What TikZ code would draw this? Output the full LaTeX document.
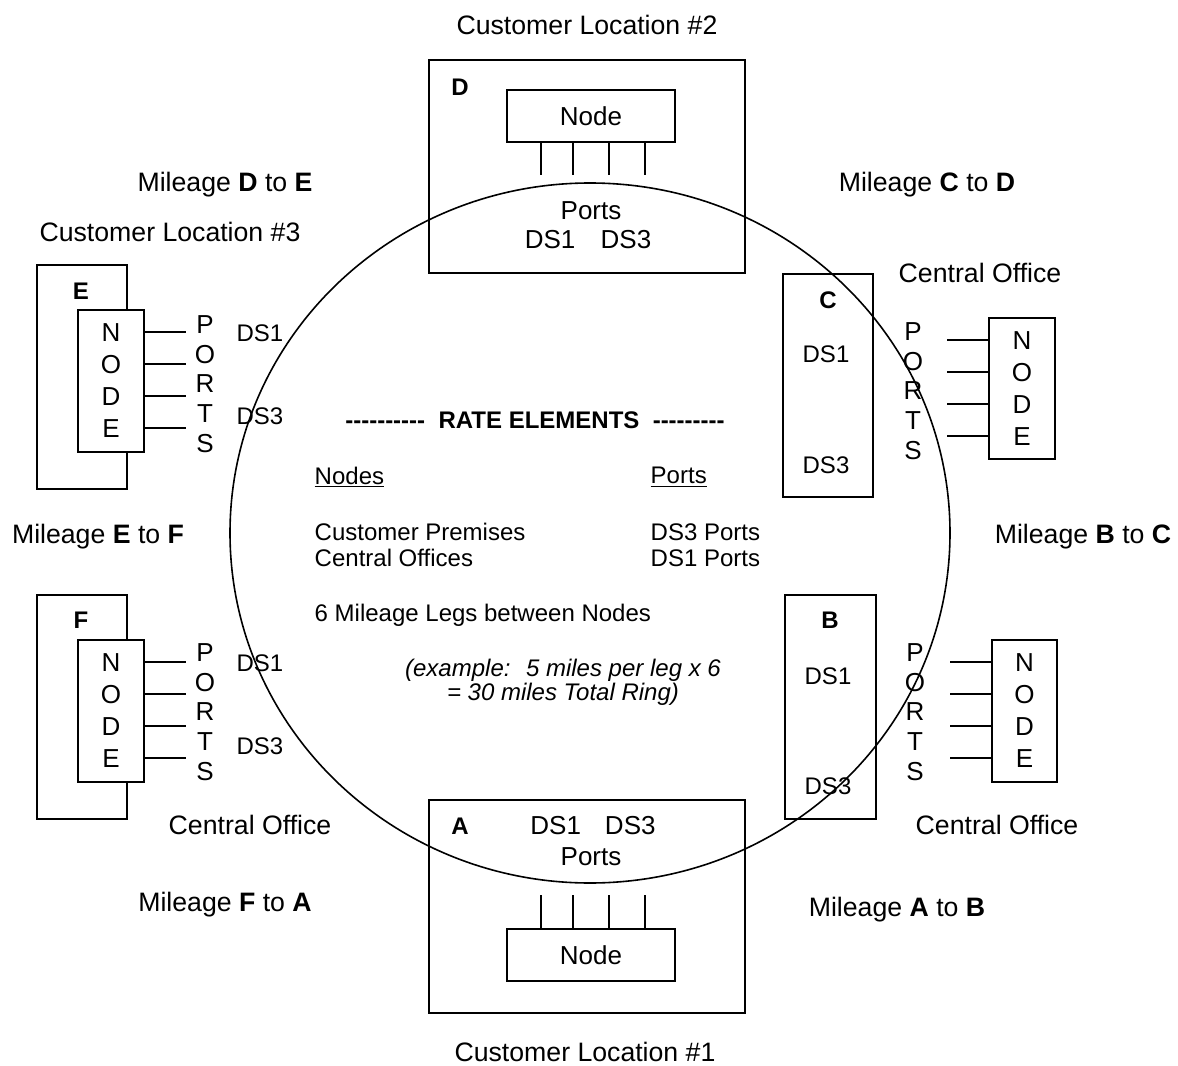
\documentclass[tikz,border=0pt]{standalone}
\usepackage{fontspec}
\setmainfont{Liberation Sans}
\usetikzlibrary{shapes.geometric}

\tikzset{every picture/.style={line width=1.1pt}}
\tikzset{
  sitebox/.style={draw, inner sep=0pt},
  nodebox/.style={draw, fill=white, inner sep=0pt, align=center, font=\fontsize{19.5}{24}\selectfont},
  outlbl/.style={inner sep=0.75pt, font=\fontsize{20}{24}\selectfont},
  inlbl/.style={inner sep=0.75pt, font=\fontsize{18}{21}\selectfont},
  sitelbl/.style={inner sep=0.75pt, font=\fontsize{18}{21}\selectfont\bfseries},
  portcol/.style={inner sep=0.75pt, align=center, font=\fontsize{19.5}{22.3}\selectfont},
}

\begin{document}
\begin{tikzpicture}[x=0.75pt,y=0.75pt,yscale=-1,xscale=1]
\useasboundingbox (0,0) rectangle (1178,1066);

%Shape: Rectangle (sites)
\node [sitebox, minimum width=237pt, minimum height=159.75pt] (siteD) at (587,166.5) {};
\node [sitebox, minimum width=237pt, minimum height=159.75pt] (siteA) at (587,906.5) {};
\node [sitebox, minimum width=67.5pt, minimum height=168pt] (siteE) at (82,377) {};
\node [sitebox, minimum width=67.5pt, minimum height=168pt] (siteF) at (82,707) {};
\node [sitebox, minimum width=67.5pt, minimum height=167.25pt] (siteC) at (828,385.5) {};
\node [sitebox, minimum width=68.25pt, minimum height=168pt] (siteB) at (830.5,707) {};

%Shape: Rectangle (node boxes)
\node [nodebox, minimum width=126pt, minimum height=39pt] (ndD) at (591,116) {Node};
\node [nodebox, minimum width=126pt, minimum height=39pt] (ndA) at (591,955) {Node};
\node [nodebox, minimum width=49.5pt, minimum height=106.5pt] (ndE) at (111,381) {N\\O\\D\\E};
\node [nodebox, minimum width=49.5pt, minimum height=106.5pt] (ndF) at (111,711) {N\\O\\D\\E};
\node [nodebox, minimum width=49.5pt, minimum height=105.75pt] (ndC) at (1022,388.5) {N\\O\\D\\E};
\node [nodebox, minimum width=48.75pt, minimum height=106.5pt] (ndB) at (1024.5,711) {N\\O\\D\\E};

%Straight Lines (ports)
\foreach \px in {541,573,609,645} {
  \draw (ndD.south -| \px,0) -- ++(0,32);
  \draw (ndA.north -| \px,0) -- ++(0,-33);
}
\foreach \py in {332,364,396,428} {
  \draw (ndE.east |- 0,\py) -- ++(41,0);
  \draw (ndC.west |- 0,\py+8) -- ++(-41,0);
}
\foreach \py in {662,694,726,758} {
  \draw (ndF.east |- 0,\py) -- ++(41,0);
  \draw (ndB.west |- 0,\py) -- ++(-41,0);
}

% Text Node
\node [outlbl] (loc2) at (587,25) {Customer Location \#2};
\node [outlbl] (loc3) at (170,232) {Customer Location \#3};
\node [outlbl] (loc1) at (585,1052) {Customer Location \#1};
\node [outlbl] (coC) at (980,273) {Central Office};
\node [outlbl] (coF) at (250,825) {Central Office};
\node [outlbl] (coB) at (997,825) {Central Office};
% Text Node
\node [outlbl] (milDE) at (225,185) {Mileage \textbf{D} to \textbf{E}};
\node [outlbl] (milCD) at (927,185) {Mileage \textbf{C} to \textbf{D}};
\node [outlbl] (milEF) at (98,537) {Mileage \textbf{E} to \textbf{F}};
\node [outlbl] (milBC) at (1083,537) {Mileage \textbf{B} to \textbf{C}};
\node [outlbl] (milFA) at (225,905) {Mileage \textbf{F} to \textbf{A}};
\node [outlbl] (milAB) at (897,910) {Mileage \textbf{A} to \textbf{B}};

% Text Node (site letters)
\node [sitelbl] (lblD) at (460,87) {D};
\node [sitelbl] (lblA) at (460,826) {A};
\node [sitelbl] (lblE) at (81,291) {E};
\node [sitelbl] (lblF) at (81,620) {F};
\node [sitelbl] (lblC) at (828,300) {C};
\node [sitelbl] (lblB) at (830,620) {B};

% Text Node (ports)
\node [nodebox, draw=none, fill=none] (portsD) at (591,211) {Ports};
\node [nodebox, draw=none, fill=none] (dsD) at (588,240) {DS1\hspace{19pt}DS3};
\node [nodebox, draw=none, fill=none] (dsA) at (593,826) {DS1\hspace{18pt}DS3};
\node [nodebox, draw=none, fill=none] (portsA) at (591,857) {Ports};
\node [portcol] (portsE) at (205,384) {P\\O\\R\\T\\S};
\node [portcol] (portsF) at (205,712) {P\\O\\R\\T\\S};
\node [portcol] (portsC) at (913,391) {P\\O\\R\\T\\S};
\node [portcol] (portsB) at (915,712) {P\\O\\R\\T\\S};
\node [inlbl] (ds1E) at (260,333) {DS1};
\node [inlbl] (ds3E) at (260,416) {DS3};
\node [inlbl] (ds1F) at (260,663) {DS1};
\node [inlbl] (ds3F) at (260,746) {DS3};
\node [inlbl] (ds1C) at (826,354) {DS1};
\node [inlbl] (ds3C) at (826,465) {DS3};
\node [inlbl] (ds1B) at (828,676) {DS1};
\node [inlbl] (ds3B) at (828,786) {DS3};

% Text Node (rate elements)
\node [inlbl, font=\fontsize{18}{21}\selectfont\bfseries] (rate) at (535,420) {-{}-{}-{}-{}-{}-{}-{}-{}-{}-~ RATE ELEMENTS ~-{}-{}-{}-{}-{}-{}-{}-{}-};
\node [inlbl, anchor=west] (hdNodes) at (313,477) {\underline{Nodes}};
\node [inlbl, anchor=west] (hdPorts) at (649,477) {\underline{Ports}};
\node [inlbl, anchor=west] (cp) at (313,532) {Customer Premises};
\node [inlbl, anchor=west] (cos) at (313,558) {Central Offices};
\node [inlbl, anchor=west] (ds3p) at (649,532) {DS3 Ports};
\node [inlbl, anchor=west] (ds1p) at (649,558) {DS1 Ports};
\node [inlbl, anchor=west] (legs) at (313,615) {6 Mileage Legs between Nodes};
\node [inlbl, font=\fontsize{18}{21}\selectfont\itshape] (ex1) at (563,670) {(example:~ 5 miles per leg x 6};
\node [inlbl, font=\fontsize{18}{21}\selectfont\itshape] (ex2) at (563,694) {= 30 miles Total Ring)};

%Shape: Ellipse
\node [draw, ellipse, inner sep=0pt, line width=1.2pt, minimum width=540pt, minimum height=525pt] (ring) at (590,533) {};

\end{tikzpicture}
\end{document}
